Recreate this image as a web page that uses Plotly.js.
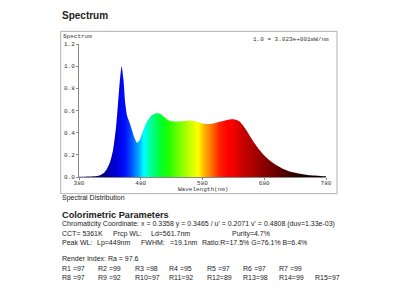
<!DOCTYPE html>
<html><head><meta charset="utf-8">
<script src="https://cdn.plot.ly/plotly-3.0.1.min.js"></script>
<style>html,body{margin:0;padding:0;background:#fff;}#chart{width:400px;height:300px;}</style>
</head><body><div id="chart"></div>
<script>
// ---- data ----
const wavelengths = [380,390,400,405,410,415,420,425,430,435,440,443,446,449,452,455,458,462,466,470,474,478,482,486,490,495,500,505,510,515,520,525,530,540,550,560,570,580,590,600,610,620,630,640,650,660,670,680,690,700,710,720,730,740,750,760,770,780];
const intensity   = [0.003,0.003,0.004,0.006,0.010,0.018,0.035,0.070,0.130,0.240,0.450,0.650,0.860,1.000,0.880,0.660,0.550,0.490,0.420,0.350,0.310,0.330,0.390,0.450,0.500,0.540,0.565,0.575,0.572,0.556,0.532,0.512,0.502,0.500,0.505,0.510,0.500,0.482,0.478,0.485,0.500,0.515,0.520,0.500,0.430,0.340,0.260,0.195,0.145,0.105,0.075,0.053,0.038,0.027,0.019,0.013,0.009,0.006];
const xTicks = [380,480,580,680,780];
const yTicks = [0,0.2,0.4,0.6,0.8,1.0,1.2];
const spectrumColors = [
 [380,'#0a0040'],[410,'#10007a'],[425,'#0000a0'],[440,'#0000d8'],[455,'#0010ff'],
 [467,'#0060ff'],[479,'#00c0ff'],[485,'#00ffff'],[492,'#00ffc0'],[500,'#00ff80'],
 [512,'#00ff30'],[525,'#20ff00'],[545,'#80ff00'],[565,'#e0ff00'],[573,'#ffff00'],
 [581,'#ffc000'],[592,'#ff8000'],[608,'#ff2000'],[620,'#ff0000'],[632,'#f00000'],
 [645,'#c80000'],[660,'#b00000'],[680,'#8a0000'],[705,'#600000'],[730,'#300000'],
 [760,'#0a0000'],[780,'#000000']];
const reportTitle = 'Spectrum';
const chartLabel = 'Spectrum';
const scaleNote = '1.0 = 3.023e+001mW/nm';
const xTitle = 'Wavelength(nm)';
const caption = 'Spectral Distribution';
const paramsTitle = 'Colorimetric Parameters';
const chromLine = "Chromaticity Coordinate: x = 0.3358 y = 0.3465 / u' = 0.2071 v' = 0.4808 (duv=1.33e-03)";
const cctParts = ['CCT= 5361K','Prcp WL:','Ld=561.7nm','Purity=4.7%'];
const peakParts = ['Peak WL:','Lp=449nm','FWHM:','=19.1nm','Ratio:R=17.5% G=76.1% B=6.4%'];
const renderLine = 'Render Index: Ra = 97.6';
const rRow1 = ['R1 =97','R2 =99','R3 =98','R4 =95','R5 =97','R6 =97','R7 =99'];
const rRow2 = ['R8 =97','R9 =92','R10=97','R11=92','R12=89','R13=98','R14=99','R15=97'];

// ---- layout helpers (pixel -> paper) ----
const L=79, R=325.7, T=44.3, B=176.7;
const px = p => (p - L)/(R - L);
const py = p => (B - p)/(B - T);
const sans = 'Liberation Sans, Arial, sans-serif';
const mono = 'Liberation Mono, Courier New, monospace';
const txtCol = '#222';
const bodySize = 7;

const ann = [];
function addText(text, x, y, size, opts={}) {
  ann.push(Object.assign({text:text, xref:'paper', yref:'paper', x:px(x), y:py(y),
    xanchor:'left', yanchor:'middle', showarrow:false,
    font:{family:sans, size:size, color:txtCol}}, opts));
}
addText('<b>'+reportTitle+'</b>', 60.5, 15.7, 10);
addText(chartLabel, 61.5, 37, 6, {font:{family:mono,size:6,color:'#333'}});
addText(scaleNote, 331, 40, 6, {xanchor:'right', font:{family:mono,size:6,color:'#333'}});
addText(xTitle, 203, 189, 6, {xanchor:'center', font:{family:mono,size:6,color:'#333'}});
addText(caption, 60.5, 197.3, bodySize);
addText('<b>'+paramsTitle+'</b>', 60.5, 214.7, 9.2);
addText(chromLine, 60.5, 223.3, bodySize);
[61,111,149,230].forEach((x,i)=>addText(cctParts[i], x-0.5, 233, bodySize));
[61,95.5,139,168,200].forEach((x,i)=>addText(peakParts[i], x-0.5, 242.3, bodySize));
addText(renderLine, 60.5, 258.3, bodySize);
const rCols = [61,96.7,133.3,167.7,205,241.7,277.3,313.3];
rRow1.forEach((t,i)=>addText(t, rCols[i]-0.5, 267.3, bodySize));
rRow2.forEach((t,i)=>addText(t, rCols[i]-0.5, 276.3, bodySize));

const x0 = spectrumColors[0][0], x1 = spectrumColors[spectrumColors.length-1][0];
const colorscale = spectrumColors.map(c => [(c[0]-x0)/(x1-x0), c[1]]);

const trace = {
  x: wavelengths, y: intensity, type:'scatter', mode:'lines',
  line:{width:0, shape:'spline', smoothing:0.6, color:'rgba(0,0,0,0)'},
  fill:'tozeroy',
  fillgradient:{type:'horizontal', start:x0, stop:x1, colorscale:colorscale},
  hoverinfo:'skip'
};

const layout = {
  width:400, height:300,
  margin:{l:L, r:400-R, t:T, b:300-B, pad:0},
  paper_bgcolor:'#fff', plot_bgcolor:'#fff',
  showlegend:false,
  xaxis:{range:[380,780], tickvals:xTicks, ticktext:xTicks.map(String),
    showgrid:false, zeroline:false, showline:true, linecolor:'#888', linewidth:1,
    ticks:'outside', ticklen:2, tickcolor:'#888', ticklabelstandoff:-2,
    tickfont:{family:mono, size:6, color:'#333'}, fixedrange:true},
  yaxis:{range:[0,1.2], tickvals:yTicks, ticktext:yTicks.map(v=>v.toFixed(1)),
    showgrid:false, zeroline:false, showline:true, linecolor:'#888', linewidth:1,
    ticks:'outside', ticklen:2, tickcolor:'#888',
    tickfont:{family:mono, size:6, color:'#333'}, fixedrange:true},
  shapes:[{type:'rect', xref:'paper', yref:'paper', x0:px(60.7), x1:px(336.7), y0:py(193.3), y1:py(31.7),
    line:{color:'#b0b0b0', width:1}, fillcolor:'rgba(0,0,0,0)', layer:'below'}],
  annotations: ann
};
Plotly.newPlot('chart', [trace], layout, {staticPlot:true, displayModeBar:false});
</script></body></html>
